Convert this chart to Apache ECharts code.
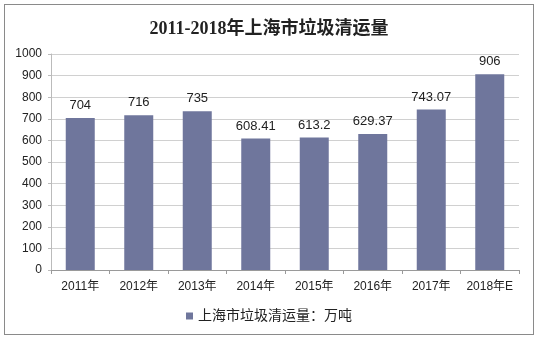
<!DOCTYPE html>
<html><head><meta charset="utf-8">
<script src="https://cdn.jsdelivr.net/npm/echarts@6/dist/echarts.min.js"></script>
<style>html,body{margin:0;padding:0;background:#fff}#c{width:538px;height:340px}
#frame{position:absolute;left:4px;top:4px;width:530px;height:331px;border:1px solid #8a8a8a;box-sizing:border-box;pointer-events:none}</style>
</head><body><div id="c"></div><div id="frame"></div>
<script>
const categories = ['2011年','2012年','2013年','2014年','2015年','2016年','2017年','2018年E'];
const values = [704, 716, 735, 608.41, 613.2, 629.37, 743.07, 906];
const labels = ['704','716','735','608.41','613.2','629.37','743.07','906'];
const seriesName = '上海市垃圾清运量：万吨';
const titleText = '2011-2018年上海市垃圾清运量';

const chart = echarts.init(document.getElementById('c'), null, {renderer:'canvas'});
chart.setOption({
  animation:false,
  backgroundColor:'#fff',
  title:{text:titleText,left:'center',top:15,
    textStyle:{fontFamily:'"Liberation Serif","Noto Sans CJK SC",serif',fontSize:18,fontWeight:'bold',color:'#222'}},
  legend:{bottom:12,left:'center',itemWidth:7,itemHeight:7,itemGap:4,icon:'rect',
    textStyle:{fontFamily:'"Liberation Sans","Noto Sans CJK SC",sans-serif',fontSize:14,color:'#222'},
    data:[seriesName]},
  grid:{left:51,right:19,top:54,bottom:70},
  xAxis:{type:'category',data:categories,
    axisLine:{lineStyle:{color:'#9a9a9a'}},
    axisTick:{show:true,length:4,lineStyle:{color:'#9a9a9a'}},
    axisLabel:{interval:0,margin:11,fontFamily:'"Liberation Sans","Noto Sans CJK SC",sans-serif',fontSize:12,color:'#222'}},
  yAxis:{type:'value',min:0,max:1000,interval:100,
    axisLine:{show:true,lineStyle:{color:'#bbbbbb'}},
    axisTick:{show:true,length:3,lineStyle:{color:'#bbbbbb'}},
    splitLine:{lineStyle:{color:'#d0d0d0'}},
    axisLabel:{margin:9,formatter:v=>String(v),fontFamily:'"Liberation Sans",sans-serif',fontSize:12,color:'#222'}},
  series:[{name:seriesName,type:'bar',data:values,barWidth:29,
    itemStyle:{color:'#6f769c'},
    label:{show:true,position:'top',distance:6,
      formatter:p=>labels[p.dataIndex],
      fontFamily:'"Liberation Sans",sans-serif',fontSize:13,color:'#222'}}]
});
</script></body></html>
